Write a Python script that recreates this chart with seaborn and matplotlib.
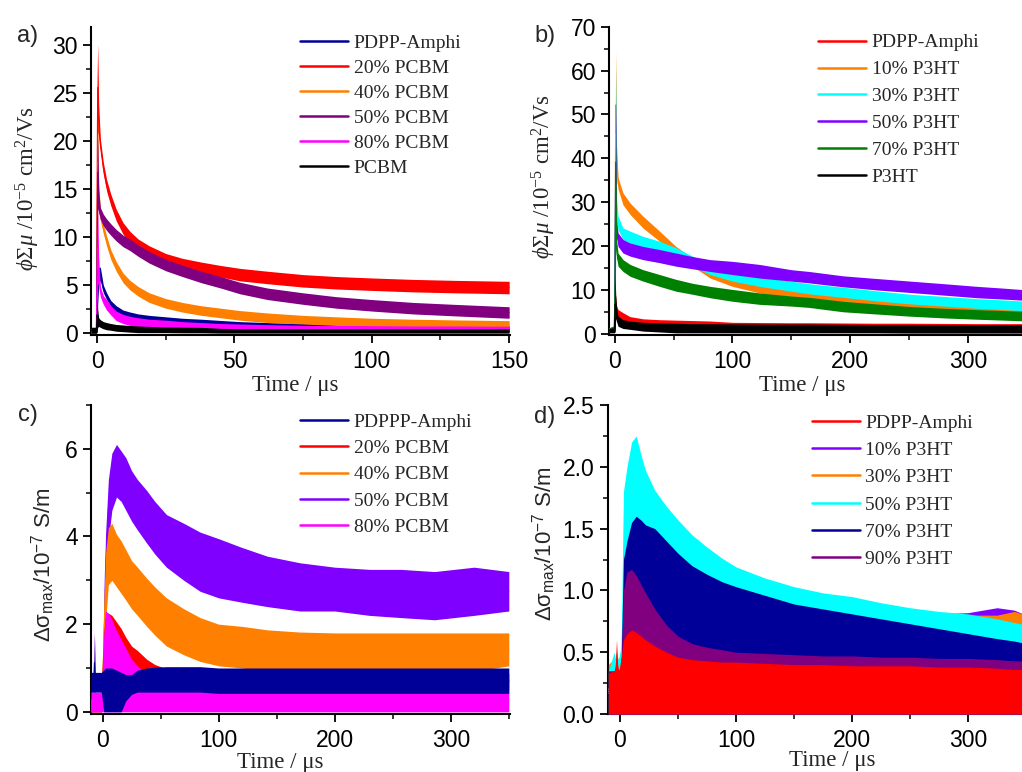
import numpy as np
import pandas as pd
import matplotlib
matplotlib.use("Agg")
import matplotlib.pyplot as plt
from matplotlib.lines import Line2D
from matplotlib.ticker import MultipleLocator
import seaborn as sns

# ---------------------------------------------------------------------------
# Transient traces, stored as the lower / upper envelope of each noisy signal
# ---------------------------------------------------------------------------

# a) PDPP-Amphi : PCBM blends, phi*Sum(mu) in 1e-5 cm2/Vs
time_a = [-2.2, -0.2, 0.0, 0.25, 0.6, 1.2, 2.3, 3.5, 5, 7, 9.5, 12, 15, 19, 25,
          31, 38, 45, 52, 62, 75, 87, 100, 115, 130, 150]
a_pdpp_lo = [0, 0, 0.3, 3.0, 5.0, 5.5, 4.2, 3.5, 2.8, 2.2, 1.85, 1.65, 1.5, 1.35, 1.2,
             1.1, 1.0, 0.88, 0.78, 0.7, 0.6, 0.55, 0.5, 0.45, 0.42, 0.4]
a_pdpp_hi = [0.5, 0.5, 4.0, 6.0, 6.8, 6.9, 5.0, 4.2, 3.4, 2.85, 2.4, 2.2, 2.0, 1.85, 1.7,
             1.55, 1.45, 1.32, 1.2, 1.1, 1.0, 0.95, 0.9, 0.85, 0.8, 0.78]
a_p20_lo = [0, 0, 0.3, 21.0, 20.5, 19.1, 16.6, 14.8, 13.3, 11.7, 10.3, 9.4, 8.6, 7.9, 7.1,
            6.6, 6.2, 5.85, 5.45, 5.15, 4.8, 4.6, 4.45, 4.3, 4.2, 4.1]
a_p20_hi = [0.6, 0.6, 26.0, 30.2, 24.0, 20.3, 17.8, 16.0, 14.5, 12.9, 11.5, 10.6, 9.8, 9.1, 8.3,
            7.8, 7.4, 7.05, 6.75, 6.45, 6.1, 5.9, 5.75, 5.6, 5.5, 5.4]
a_p40_lo = [0, 0, 0.2, 13.0, 12.8, 11.8, 10.4, 9.1, 7.7, 6.45, 5.25, 4.5, 3.85, 3.2, 2.6,
            2.2, 1.85, 1.6, 1.35, 1.1, 0.95, 0.8, 0.68, 0.6, 0.52, 0.45]
a_p40_hi = [0.5, 0.5, 18.0, 22.5, 16.0, 12.8, 11.4, 10.1, 8.7, 7.45, 6.25, 5.5, 4.85, 4.2, 3.6,
            3.2, 2.85, 2.6, 2.35, 2.1, 1.85, 1.7, 1.55, 1.45, 1.38, 1.3]
a_p50_lo = [0, 0, 0.3, 13.0, 12.6, 11.9, 11.2, 10.7, 10.2, 9.6, 9.0, 8.6, 8.0, 7.3, 6.5,
            5.9, 5.25, 4.7, 4.1, 3.5, 3.0, 2.6, 2.3, 2.0, 1.8, 1.55]
a_p50_hi = [0.6, 0.6, 17.0, 20.5, 15.0, 13.1, 12.4, 11.9, 11.4, 10.8, 10.2, 9.8, 9.2, 8.5, 7.7,
            7.1, 6.45, 5.9, 5.3, 4.7, 4.2, 3.8, 3.5, 3.2, 3.0, 2.75]
a_p80_lo = [0, 0, 0.2, 5.0, 5.2, 3.8, 3.0, 2.4, 1.9, 1.3, 1.0, 0.8, 0.65, 0.55, 0.45,
            0.38, 0.3, 0.25, 0.2, 0.18, 0.15, 0.15, 0.15, 0.12, 0.12, 0.12]
a_p80_hi = [0.4, 0.4, 10.0, 12.8, 8.0, 4.85, 3.9, 3.5, 2.85, 2.3, 1.95, 1.75, 1.6, 1.45, 1.35,
            1.2, 1.1, 1.0, 0.95, 0.88, 0.82, 0.8, 0.78, 0.75, 0.75, 0.72]
a_pcbm_lo = [0, 0, 0.1, 0.6, 0.7, 0.6, 0.45, 0.35, 0.3, 0.2, 0.15, 0.1, 0.05, 0.05, 0.05,
             0.03, 0.03, 0.0, 0.0, 0.0, 0.0, 0.0, 0.0, 0.0, 0.0, 0.0]
a_pcbm_hi = [0.6, 0.6, 3.7, 2.5, 1.6, 1.4, 1.2, 1.1, 1.0, 0.9, 0.85, 0.8, 0.75, 0.7, 0.65,
             0.62, 0.6, 0.5, 0.45, 0.45, 0.45, 0.45, 0.45, 0.45, 0.45, 0.45]

# b) PDPP-Amphi : P3HT blends, phi*Sum(mu) in 1e-5 cm2/Vs
time_b = [-5, -0.3, 0.3, 0.8, 1.5, 2.8, 7, 13, 24, 38, 52, 66, 81, 100, 123, 150,
          165, 194, 222, 251, 280, 308, 330, 350]
b_pdpp_lo = [0.3, 0.3, 0.5, 4.5, 4.5, 3.7, 3.0, 2.3, 1.9, 1.7, 1.6, 1.5, 1.4, 1.3, 1.2, 1.15,
             1.1, 1.05, 1.0, 1.0, 0.95, 0.95, 0.9, 0.9]
b_pdpp_hi = [1.3, 1.5, 9.4, 8.5, 6.5, 5.5, 4.8, 3.9, 3.4, 3.2, 3.1, 3.0, 2.9, 2.6, 2.55, 2.5,
             2.5, 2.45, 2.4, 2.4, 2.35, 2.3, 2.3, 2.3]
b_p10_lo = [0.3, 0.5, 1.0, 40.0, 37.0, 33.0, 29.4, 27.2, 24.1, 21.1, 18.0, 15.4, 12.7, 10.8, 9.3, 8.2,
            7.7, 6.7, 6.2, 5.9, 5.6, 5.4, 5.2, 5.0]
b_p10_hi = [1.3, 1.8, 45.0, 64.3, 43.0, 35.6, 32.1, 29.8, 26.8, 23.4, 19.9, 17.3, 14.6, 12.7, 11.2, 10.1,
            9.4, 8.5, 8.0, 7.7, 7.4, 7.2, 7.0, 6.8]
b_p30_lo = [0.3, 0.5, 1.0, 30.0, 26.0, 23.7, 21.5, 20.7, 19.6, 18.4, 17.3, 15.4, 13.5, 12.0, 10.8, 9.7,
            9.1, 8.3, 7.5, 6.8, 6.3, 5.8, 5.5, 5.2]
b_p30_hi = [1.3, 1.8, 40.0, 60.9, 31.0, 26.8, 24.1, 23.4, 22.2, 21.1, 19.6, 17.7, 15.8, 14.3, 13.1, 12.0,
            11.4, 10.6, 9.8, 9.0, 8.5, 8.0, 7.7, 7.4]
b_p50_lo = [0.3, 0.5, 1.0, 25.0, 22.0, 19.9, 18.4, 17.7, 16.9, 16.2, 15.4, 14.8, 14.2, 13.5, 12.7, 12.0,
            11.6, 10.7, 10.0, 9.4, 8.8, 8.2, 7.9, 7.6]
b_p50_hi = [1.3, 1.8, 35.0, 53.3, 26.0, 23.0, 21.5, 20.7, 19.9, 19.2, 18.4, 17.6, 16.9, 16.5, 15.8, 14.6,
            14.2, 13.2, 12.6, 12.0, 11.4, 10.8, 10.4, 10.0]
b_p70_lo = [0.3, 0.5, 1.0, 20.0, 17.5, 15.4, 14.2, 13.1, 12.0, 10.8, 9.7, 9.0, 8.2, 7.4, 6.7, 6.3,
            6.0, 5.0, 4.5, 4.0, 3.6, 3.3, 3.1, 2.9]
b_p70_hi = [1.3, 1.8, 30.0, 47.6, 21.5, 18.4, 16.9, 15.8, 14.6, 13.5, 12.4, 11.5, 10.8, 10.1, 9.3, 8.6,
            8.3, 7.4, 6.8, 6.2, 5.8, 5.5, 5.3, 5.1]
b_p3ht_lo = [0.2, 0.2, 0.5, 3.5, 2.8, 1.7, 1.2, 1.0, 0.6, 0.4, 0.2, 0.2, 0.2, 0.2, 0.2, 0.2,
             0.2, 0.2, 0.2, 0.15, 0.15, 0.15, 0.15, 0.15]
b_p3ht_hi = [1.2, 1.4, 13.0, 9.0, 6.0, 4.0, 3.2, 2.9, 2.6, 2.5, 2.4, 2.3, 2.3, 2.25, 2.2, 2.2,
             2.2, 2.15, 2.1, 2.1, 2.05, 2.0, 2.0, 2.0]

# c) PDPPP-Amphi : PCBM blends, delta sigma_max in 1e-7 S/m
time_c = [-10, -7.6, -7, -6.4, -1, 1, 2.5, 5, 8, 12, 16, 20, 25, 30, 38, 45, 55, 70,
          84, 100, 120, 142, 170, 200, 230, 257, 286, 320, 350]
c_pdpp_lo = [0.45, 0.45, 0.45, 0.45, 0.45, 0.0, 0.0, 0.0, 0.0, 0.0, 0.0, 0.25, 0.4, 0.45, 0.45, 0.45, 0.45, 0.45,
             0.45, 0.42, 0.42, 0.42, 0.42, 0.42, 0.42, 0.42, 0.42, 0.42, 0.42]
c_pdpp_hi = [0.9, 0.9, 1.8, 0.9, 0.9, 0.95, 1.0, 1.0, 1.0, 0.95, 0.9, 0.85, 0.85, 0.95, 1.0, 1.02, 1.03, 1.03,
             1.03, 1.0, 1.0, 1.0, 1.0, 1.0, 1.0, 1.0, 1.0, 1.0, 1.0]
c_p20_lo = [0, 0, 0, 0, 0, 0.4, 1.4, 1.6, 1.55, 1.4, 1.25, 1.1, 0.95, 0.88, 0.75, 0.68, 0.6, 0.55,
            0.5, 0.48, 0.48, 0.48, 0.48, 0.48, 0.48, 0.48, 0.48, 0.48, 0.48]
c_p20_hi = [0.3, 0.3, 0.3, 0.3, 0.3, 1.8, 2.2, 2.25, 2.2, 2.05, 1.9, 1.7, 1.5, 1.4, 1.2, 1.08, 0.98, 0.92,
            0.9, 0.88, 0.88, 0.88, 0.88, 0.88, 0.88, 0.88, 0.88, 0.88, 0.88]
c_p40_lo = [0, 0, 0, 0, 0, 0.5, 2.0, 2.9, 3.0, 2.85, 2.7, 2.55, 2.35, 2.2, 1.95, 1.75, 1.5, 1.3,
            1.15, 1.05, 1.0, 0.92, 0.87, 0.85, 0.85, 0.85, 0.87, 0.92, 1.05]
c_p40_hi = [0.3, 0.3, 0.3, 0.3, 0.3, 2.3, 3.6, 4.2, 4.3, 4.05, 3.9, 3.7, 3.45, 3.3, 3.05, 2.85, 2.6, 2.35,
            2.15, 2.0, 1.95, 1.87, 1.82, 1.8, 1.8, 1.8, 1.8, 1.8, 1.8]
c_p50_lo = [0, 0, 0, 0, 0, 0.5, 2.4, 3.9, 4.6, 4.9, 4.8, 4.6, 4.35, 4.15, 3.85, 3.6, 3.3, 3.0,
            2.75, 2.6, 2.5, 2.4, 2.3, 2.3, 2.2, 2.15, 2.1, 2.2, 2.3]
c_p50_hi = [0.3, 0.3, 0.3, 0.3, 0.3, 2.0, 4.0, 5.3, 5.9, 6.1, 5.95, 5.8, 5.5, 5.3, 5.05, 4.8, 4.5, 4.3,
            4.1, 3.95, 3.75, 3.55, 3.4, 3.3, 3.25, 3.25, 3.2, 3.3, 3.2]
c_p80_lo = [0.0] * len(time_c)
c_p80_hi = [0.45, 0.45, 1.85, 0.45, 0.45, 1.7, 2.3, 2.25, 2.1, 1.85, 1.65, 1.45, 1.2, 1.05, 0.85, 0.72, 0.62, 0.52,
            0.48, 0.45, 0.45, 0.45, 0.45, 0.45, 0.45, 0.45, 0.45, 0.45, 0.45]

# d) PDPP-Amphi : P3HT blends, delta sigma_max in 1e-7 S/m (noise reaches the baseline)
time_d = [-10, -5, -4, -3, -2, -1, 1, 3, 6, 10, 14, 18, 22, 30, 40, 50, 62, 75, 88, 100,
          125, 150, 175, 200, 225, 250, 275, 300, 325, 340, 350]
d_floor = [0.0] * len(time_d)
d_pdpp_hi = [0.33, 0.35, 0.4, 0.6, 0.4, 0.35, 0.45, 0.6, 0.65, 0.68, 0.66, 0.63, 0.6, 0.55, 0.5, 0.46,
             0.44, 0.43, 0.42, 0.42, 0.41, 0.4, 0.4, 0.39, 0.39, 0.39, 0.38, 0.38, 0.37, 0.36, 0.36]
d_p10_hi = [0.35, 0.4, 0.4, 0.4, 0.4, 0.4, 0.45, 1.0, 1.05, 1.05, 1.03, 1.0, 0.97, 0.9, 0.82, 0.75,
            0.72, 0.72, 0.72, 0.72, 0.73, 0.75, 0.77, 0.78, 0.79, 0.8, 0.81, 0.82, 0.86, 0.84, 0.8]
d_p30_hi = [0.4, 0.45, 0.45, 0.5, 0.45, 0.45, 0.5, 1.05, 1.12, 1.15, 1.13, 1.1, 1.05, 0.98, 0.85, 0.74,
            0.7, 0.7, 0.71, 0.72, 0.74, 0.76, 0.78, 0.8, 0.8, 0.8, 0.8, 0.8, 0.8, 0.83, 0.8]
d_p50_hi = [0.35, 0.5, 0.45, 0.5, 0.45, 0.45, 0.55, 1.8, 2.0, 2.2, 2.25, 2.1, 1.97, 1.81, 1.68, 1.57,
            1.45, 1.35, 1.26, 1.19, 1.1, 1.03, 0.98, 0.95, 0.9, 0.86, 0.83, 0.81, 0.77, 0.74, 0.72]
d_p70_hi = [0.3, 0.3, 0.3, 0.35, 0.3, 0.35, 0.4, 1.25, 1.4, 1.55, 1.6, 1.57, 1.53, 1.5, 1.4, 1.3,
            1.2, 1.13, 1.07, 1.03, 0.96, 0.89, 0.85, 0.81, 0.77, 0.73, 0.69, 0.65, 0.61, 0.59, 0.57]
d_p90_hi = [0.35, 0.35, 0.35, 0.35, 0.35, 0.35, 0.4, 1.0, 1.15, 1.17, 1.12, 1.05, 0.98, 0.85, 0.72, 0.63,
            0.57, 0.54, 0.52, 0.5, 0.49, 0.48, 0.47, 0.47, 0.46, 0.46, 0.45, 0.45, 0.44, 0.43, 0.43]

# Origin-style colours
RED, ORANGE, PURPLE, MAGENTA = "#FF0000", "#FF8000", "#800080", "#FF00FF"
NAVY, CYAN, VIOLET, GREEN = "#000099", "#00FFFF", "#8000FF", "#008000"

SERIF = ["Liberation Serif", "DejaVu Serif"]
SANS = ["Liberation Sans", "DejaVu Sans"]

sns.set_theme(style="ticks")
plt.rcParams.update({
    "font.family": SANS,
    "mathtext.fontset": "custom",
    "mathtext.rm": "Liberation Serif",
    "mathtext.it": "Liberation Serif:italic",
    "mathtext.bf": "Liberation Serif:bold",
    "axes.edgecolor": "black",
    "axes.linewidth": 1.5,
    "xtick.color": "black", "ytick.color": "black",
    "xtick.direction": "out", "ytick.direction": "out",
    "xtick.major.size": 6, "ytick.major.size": 6,
    "xtick.minor.size": 3.5, "ytick.minor.size": 3.5,
    "xtick.major.width": 1.3, "ytick.major.width": 1.3,
    "xtick.minor.width": 1.1, "ytick.minor.width": 1.1,
    "xtick.major.pad": 5, "ytick.major.pad": 3.5,
    "xtick.labelsize": 16.5, "ytick.labelsize": 16.5,
})


def draw_traces(ax, time, traces):
    """Draw each trace as a filled min/max band via seaborn's aggregation."""
    for i, (label, color, lo, hi) in enumerate(traces):
        frame = pd.DataFrame({
            "time": np.concatenate([time, time]),
            "signal": np.concatenate([lo, hi]),
        })
        sns.lineplot(data=frame, x="time", y="signal", ax=ax, color=color,
                     estimator="mean", errorbar=("pi", 100), lw=0.8,
                     zorder=3 + 2 * i, legend=False,
                     err_kws={"alpha": 1.0, "linewidth": 0, "zorder": 2 + 2 * i})


def add_legend(ax, entries, anchor, spacing):
    handles = [Line2D([], [], color=c, lw=1.8) for _, c in entries]
    ax.legend(handles, [n for n, _ in entries], loc="upper left",
              bbox_to_anchor=anchor, frameon=False,
              prop={"family": SERIF, "size": 14}, handlelength=2.45,
              handletextpad=0.3, labelspacing=spacing,
              borderpad=0, borderaxespad=0)


def style_axes(ax, xlim, ylim, xmaj, xmin, ymaj, ymin):
    ax.set_xlim(*xlim)
    ax.set_ylim(*ylim)
    ax.xaxis.set_major_locator(MultipleLocator(xmaj))
    ax.xaxis.set_minor_locator(MultipleLocator(xmin))
    ax.yaxis.set_major_locator(MultipleLocator(ymaj))
    ax.yaxis.set_minor_locator(MultipleLocator(ymin))
    ax.set_facecolor("white")
    sns.despine(ax=ax)


fig = plt.figure(figsize=(10.22, 7.72), dpi=100)
fig.patch.set_facecolor("white")
ax_a = fig.add_axes([0.089, 0.566, 0.410, 0.399])
ax_b = fig.add_axes([0.596, 0.566, 0.404, 0.3994])
ax_c = fig.add_axes([0.089, 0.0751, 0.410, 0.4003])
ax_d = fig.add_axes([0.5946, 0.0751, 0.4054, 0.4003])

time_label = "Time / \u03bcs"
mobility_label = r"$\mathit{\phi\Sigma\mu}$ /10$^{\mathregular{-5}}$ cm$^{\mathregular{2}}$/Vs"
conduct_label = "\u0394\u03c3$_{\\mathregular{max}}$/10$^{\\mathregular{-7}}$ S/m"

# ---- a) ----
traces_a = [
    ("PDPP-Amphi", NAVY, a_pdpp_lo, a_pdpp_hi),
    ("20% PCBM", RED, a_p20_lo, a_p20_hi),
    ("40% PCBM", ORANGE, a_p40_lo, a_p40_hi),
    ("50% PCBM", PURPLE, a_p50_lo, a_p50_hi),
    ("80% PCBM", MAGENTA, a_p80_lo, a_p80_hi),
    ("PCBM", "black", a_pcbm_lo, a_pcbm_hi),
]
draw_traces(ax_a, time_a, traces_a)
style_axes(ax_a, (-2.2, 150.3), (-0.2, 31.9), 50, 25, 5, 2.5)
add_legend(ax_a, [(n, c) for n, c, _, _ in traces_a], (0.499, 0.977), 0.38)

# ---- b) ----
traces_b = [
    ("PDPP-Amphi", RED, b_pdpp_lo, b_pdpp_hi),
    ("10% P3HT", ORANGE, b_p10_lo, b_p10_hi),
    ("30% P3HT", CYAN, b_p30_lo, b_p30_hi),
    ("50% P3HT", VIOLET, b_p50_lo, b_p50_hi),
    ("70% P3HT", GREEN, b_p70_lo, b_p70_hi),
    ("P3HT", "black", b_p3ht_lo, b_p3ht_hi),
]
draw_traces(ax_b, time_b, traces_b)
style_axes(ax_b, (-4.8, 346), (-0.3, 70), 100, 50, 10, 5)
add_legend(ax_b, [(n, c) for n, c, _, _ in traces_b], (0.506, 0.977), 0.48)

# ---- c) ----
traces_c = [
    ("50% PCBM", VIOLET, c_p50_lo, c_p50_hi),
    ("40% PCBM", ORANGE, c_p40_lo, c_p40_hi),
    ("20% PCBM", RED, c_p20_lo, c_p20_hi),
    ("80% PCBM", MAGENTA, c_p80_lo, c_p80_hi),
    ("PDPPP-Amphi", NAVY, c_pdpp_lo, c_pdpp_hi),
]
draw_traces(ax_c, time_c, traces_c)
style_axes(ax_c, (-10, 351), (-0.05, 7.0), 100, 50, 2, 1)
add_legend(ax_c, [("PDPPP-Amphi", NAVY), ("20% PCBM", RED), ("40% PCBM", ORANGE),
                  ("50% PCBM", VIOLET), ("80% PCBM", MAGENTA)], (0.499, 0.974), 0.45)

# ---- d) ----
traces_d = [
    ("10% P3HT", VIOLET, d_floor, d_p10_hi),
    ("30% P3HT", ORANGE, d_floor, d_p30_hi),
    ("50% P3HT", CYAN, d_floor, d_p50_hi),
    ("70% P3HT", NAVY, d_floor, d_p70_hi),
    ("90% P3HT", PURPLE, d_floor, d_p90_hi),
    ("PDPP-Amphi", RED, d_floor, d_pdpp_hi),
]
draw_traces(ax_d, time_d, traces_d)
style_axes(ax_d, (-10.6, 346.5), (0, 2.5), 100, 50, 0.5, 0.25)
add_legend(ax_d, [("PDPP-Amphi", RED), ("10% P3HT", VIOLET), ("30% P3HT", ORANGE),
                  ("50% P3HT", CYAN), ("70% P3HT", NAVY), ("90% P3HT", PURPLE)],
           (0.493, 0.971), 0.5)

# axis titles
for ax, xpos in ((ax_a, (0.487, -0.13)), (ax_b, (0.467, -0.13)),
                 (ax_c, (0.451, -0.122)), (ax_d, (0.541, -0.117))):
    ax.set_xlabel(time_label, family=SERIF, fontsize=16.5)
    ax.xaxis.set_label_coords(*xpos)

ax_a.set_ylabel(mobility_label, family=SERIF, fontsize=16.5)
ax_a.yaxis.set_label_coords(-0.117, 0.477)
ax_b.set_ylabel(mobility_label, family=SERIF, fontsize=16.5)
ax_b.yaxis.set_label_coords(-0.123, 0.513)
ax_c.set_ylabel(conduct_label, family=SANS, fontsize=16)
ax_c.yaxis.set_label_coords(-0.081, 0.482)
ax_d.set_ylabel(conduct_label, family=SANS, fontsize=16)
ax_d.yaxis.set_label_coords(-0.12, 0.55)

# panel letters
for letter, xy in (("a)", (0.027, 0.953)), ("b)", (0.533, 0.953)),
                   ("c)", (0.027, 0.462)), ("d)", (0.533, 0.46))):
    fig.text(*xy, letter, family=SANS, fontsize=17, ha="center", va="center")

fig.savefig("out.png", dpi=100, facecolor="white")
